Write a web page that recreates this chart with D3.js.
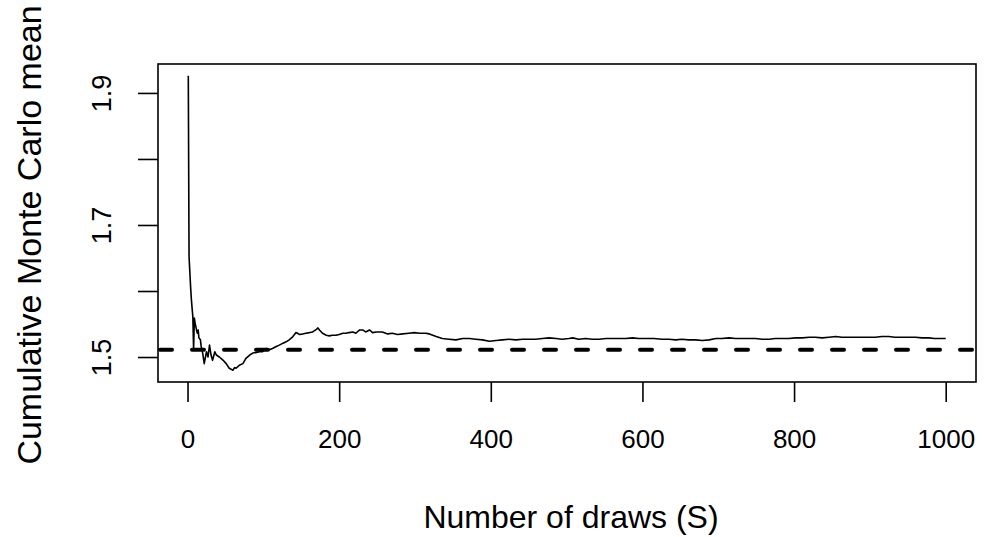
<!DOCTYPE html>
<html>
<head>
<meta charset="utf-8">
<script src="https://cdn.jsdelivr.net/npm/d3@7"></script>
<style>
  html, body { margin: 0; padding: 0; background: #fff; }
  svg { display: block; }
  text { font-family: "Liberation Sans", Arial, Helvetica, sans-serif; fill: #000; }
</style>
</head>
<body>
<svg id="chart" width="985" height="537"></svg>
<script>
// Cumulative Monte Carlo mean after S draws
const draws = [1,2,3,4,5,6,7,8,9,10,11,12,13,14,15,17,18,20,22,25,27,29,31,33,36,38,42,47,51,55,60,62,64,69,73,77,82,86,91,95,99,104,108,112,117,121,126,130,134,139,143,145,148,152,156,161,165,170,172,174,178,183,187,191,196,200,205,209,213,218,222,227,231,235,240,244,249,253,257,264,270,277,284,292,299,306,314,319,328,336,345,354,363,372,380,389,398,407,415,424,433,442,451,459,468,477,486,494,503,508,516,525,534,543,552,560,569,578,587,595,604,615,626,635,644,652,661,670,679,688,697,705,714,723,732,740,749,758,767,775,784,793,802,811,820,828,837,846,855,863,872,881,890,898,907,916,925,933,942,951,960,969,978,985,991,1000];
const means = [1.926,1.652,1.630,1.607,1.588,1.574,1.561,1.511,1.559,1.551,1.546,1.540,1.536,1.541,1.529,1.526,1.516,1.506,1.490,1.508,1.500,1.518,1.503,1.495,1.508,1.503,1.500,1.495,1.490,1.483,1.480,1.484,1.483,1.488,1.490,1.498,1.503,1.506,1.507,1.508,1.508,1.513,1.511,1.513,1.516,1.518,1.521,1.523,1.526,1.531,1.537,1.536,1.534,1.535,1.536,1.537,1.538,1.542,1.544,1.541,1.536,1.533,1.532,1.533,1.533,1.534,1.536,1.536,1.537,1.538,1.536,1.541,1.541,1.538,1.541,1.537,1.538,1.538,1.538,1.535,1.536,1.534,1.535,1.536,1.537,1.536,1.536,1.535,1.531,1.528,1.527,1.526,1.528,1.528,1.527,1.526,1.524,1.525,1.526,1.527,1.526,1.527,1.527,1.527,1.528,1.529,1.528,1.527,1.528,1.529,1.527,1.528,1.527,1.527,1.528,1.528,1.528,1.528,1.529,1.528,1.528,1.528,1.527,1.527,1.526,1.527,1.526,1.526,1.525,1.526,1.528,1.528,1.529,1.528,1.528,1.528,1.528,1.527,1.527,1.528,1.528,1.528,1.529,1.529,1.530,1.530,1.529,1.530,1.531,1.530,1.530,1.530,1.530,1.530,1.530,1.531,1.531,1.530,1.530,1.530,1.530,1.529,1.529,1.528,1.528,1.528];

// Reference value shown as a dashed horizontal line
const referenceMean = [1.511];

// Axis ticks
const xTicks = [0, 200, 400, 600, 800, 1000];
const yTicks = [1.5, 1.6, 1.7, 1.8, 1.9];
const yTickLabels = ["1.5", "", "1.7", "", "1.9"];

const xTitle = "Number of draws (S)";
const yTitle = "Cumulative Monte Carlo mean";

const svg = d3.select("#chart");
const box = { left: 158, right: 976, top: 64, bottom: 382 };

// Data range padded by 4% on each side
function padded(ext) {
  const p = (ext[1] - ext[0]) * 0.04;
  return [ext[0] - p, ext[1] + p];
}
const x = d3.scaleLinear().domain(padded(d3.extent(draws))).range([box.left, box.right]);
const y = d3.scaleLinear().domain(padded(d3.extent(means))).range([box.bottom, box.top]);

const points = draws.map((d, i) => [d, means[i]]);

svg.append("clipPath").attr("id", "plotArea")
  .append("rect")
  .attr("x", box.left).attr("y", box.top)
  .attr("width", box.right - box.left).attr("height", box.bottom - box.top);

// Running mean
svg.append("path")
  .datum(points)
  .attr("fill", "none")
  .attr("stroke", "#000")
  .attr("stroke-width", 1.6)
  .attr("stroke-linejoin", "round")
  .attr("d", d3.line().x(d => x(d[0])).y(d => y(d[1])));

// Dashed reference line
svg.append("g").attr("clip-path", "url(#plotArea)")
  .selectAll("line").data(referenceMean).join("line")
  .attr("x1", box.left).attr("x2", box.right)
  .attr("y1", d => y(d)).attr("y2", d => y(d))
  .attr("stroke", "#000")
  .attr("stroke-width", 4)
  .attr("stroke-linecap", "round")
  .attr("stroke-dasharray", "12 20")
  .attr("stroke-dashoffset", 30);

// Plot frame
svg.append("rect")
  .attr("x", box.left).attr("y", box.top)
  .attr("width", box.right - box.left).attr("height", box.bottom - box.top)
  .attr("fill", "none").attr("stroke", "#000").attr("stroke-width", 1.6);

// Bottom axis
const xAxis = svg.append("g")
  .attr("transform", `translate(0,${box.bottom})`)
  .call(d3.axisBottom(x).tickValues(xTicks).tickSize(20).tickSizeOuter(0).tickPadding(28).tickFormat(d3.format("d")));
xAxis.select(".domain").remove();
xAxis.selectAll(".tick line").attr("stroke", "#000").attr("stroke-width", 1.6);
xAxis.selectAll(".tick text")
  .attr("font-size", 26)
  .attr("font-family", "Liberation Sans, Arial, sans-serif");

// Left axis, labels written along the axis
const yAxis = svg.append("g")
  .attr("transform", `translate(${box.left},0)`)
  .call(d3.axisLeft(y).tickValues(yTicks).tickSize(20).tickSizeOuter(0).tickFormat((d, i) => yTickLabels[i]));
yAxis.select(".domain").remove();
yAxis.selectAll(".tick line").attr("stroke", "#000").attr("stroke-width", 1.6);
yAxis.selectAll(".tick text")
  .attr("font-size", 27)
  .attr("font-family", "Liberation Sans, Arial, sans-serif")
  .attr("x", null).attr("dy", null)
  .attr("text-anchor", "middle")
  .attr("transform", "translate(-47,0) rotate(-90)");

// Axis titles
svg.append("text")
  .attr("x", (box.left + box.right) / 2 + 4)
  .attr("y", 528)
  .attr("text-anchor", "middle")
  .attr("font-size", 32)
  .text(xTitle);

svg.append("text")
  .attr("transform", `translate(41,235) rotate(-90)`)
  .attr("text-anchor", "middle")
  .attr("font-size", 34)
  .text(yTitle);
</script>
</body>
</html>
